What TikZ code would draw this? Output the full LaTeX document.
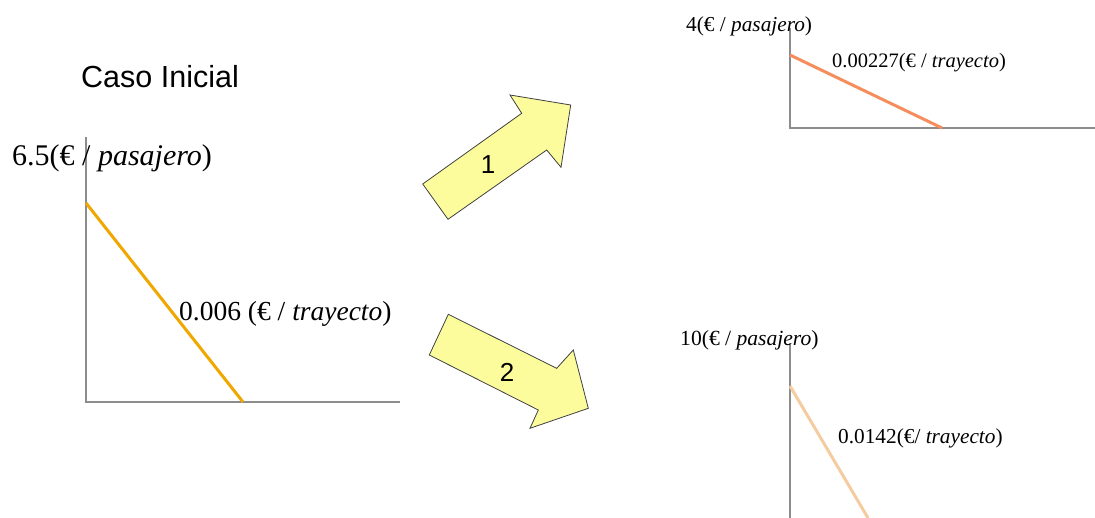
\documentclass[tikz,border=0pt]{standalone}
\usepackage{fontspec}
\setmainfont{Liberation Serif}
\newfontfamily\arialfont{Liberation Sans}
\begin{document}
\begin{tikzpicture}[x=1pt,y=-1pt,
  axisline/.style={draw=gray!90,line width=1.3pt},
  demand/.style={line width=3pt},
  blockarrow/.style={fill=arrowfill,draw=black!75,line width=0.8pt,line join=miter},
  lbl/.style={inner sep=0pt,anchor=base west},
  numlbl/.style={font=\arialfont\fontsize{26}{28}\selectfont,inner sep=0pt}]
\definecolor{arrowfill}{HTML}{FCFC9C}
\definecolor{cinit}{HTML}{F0A800}
\definecolor{cone}{HTML}{F58E5C}
\definecolor{ctwo}{HTML}{F5CBA0}
\useasboundingbox (0,0) rectangle (1095,518);

% Title
\node[lbl,font=\arialfont\fontsize{30.5}{32}\selectfont] (title) at (81,88) {Caso Inicial};

% Main chart
\coordinate (o0) at (86,402);
\coordinate (y0) at (86,137);
\coordinate (x0) at (400,402);
\coordinate (a0) at (86,203);
\coordinate (b0) at (243,402);
\draw[axisline] (y0) -- (o0) -- (x0);
\draw[demand,cinit] (a0) -- (b0);
\node[lbl,font=\fontsize{30}{32}\selectfont] (ly0) at (12,166) {6.5(€ / \textit{pasajero})};
\node[lbl,font=\fontsize{27.5}{30}\selectfont] (lx0) at (179,321) {0.006 (€ / \textit{trayecto})};

% Chart 1
\coordinate (o1) at (790,128);
\coordinate (y1) at (790,28);
\coordinate (x1) at (1095,128);
\coordinate (a1) at (790,55);
\coordinate (b1) at (942,128);
\draw[axisline] (y1) -- (o1) -- (x1);
\draw[demand,cone] (a1) -- (b1);
\node[lbl,font=\fontsize{21.3}{23}\selectfont] (ly1) at (686,32) {4(€ / \textit{pasajero})};
\node[lbl,font=\fontsize{20.5}{22}\selectfont] (lx1) at (832,68) {0.00227(€ / \textit{trayecto})};

% Chart 2
\coordinate (y2) at (790,343);
\coordinate (o2) at (790,518);
\coordinate (a2) at (790,386);
\coordinate (b2) at (868,518);
\draw[axisline] (y2) -- (o2);
\draw[demand,ctwo] (a2) -- (b2);
\node[lbl,font=\fontsize{21.6}{24}\selectfont] (ly2) at (680,346) {10(€ / \textit{pasajero})};
\node[lbl,font=\fontsize{21.3}{24}\selectfont] (lx2) at (838,443) {0.0142(€/ \textit{trayecto})};

% Arrow 1
\draw[blockarrow] (422.7,184) -- (521.7,113.3) -- (510,95) -- (570.7,105) -- (561,167.3) -- (546.7,150) -- (448,219.3) -- cycle;
\node[numlbl] (n1) at (488,165) {1};

% Arrow 2
\draw[blockarrow] (448.3,314.3) -- (556.7,368.3) -- (573.3,350) -- (588.3,408.3) -- (530,428.3) -- (538.3,410) -- (429.3,355) -- cycle;
\node[numlbl] (n2) at (507,372) {2};
\end{tikzpicture}
\end{document}
